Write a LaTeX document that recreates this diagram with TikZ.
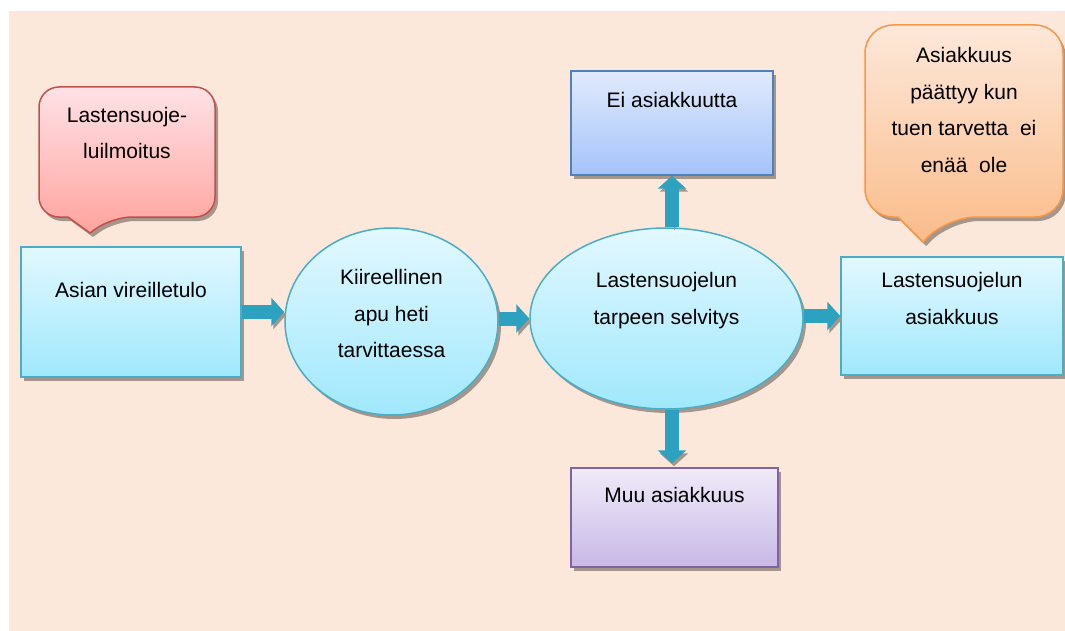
\documentclass[tikz,border=0pt]{standalone}
\usepackage{fontspec}
\setmainfont{Liberation Sans}
\usetikzlibrary{arrows.meta,positioning,shapes.geometric,shadows}

\definecolor{paper}{RGB}{251,232,218}
\definecolor{cyanline}{RGB}{75,172,198}
\definecolor{cyantop}{RGB}{226,248,255}
\definecolor{cyanbot}{RGB}{160,232,252}
\definecolor{blueline}{RGB}{79,129,189}
\definecolor{bluetop}{RGB}{224,234,252}
\definecolor{bluebot}{RGB}{165,195,250}
\definecolor{violetline}{RGB}{128,100,162}
\definecolor{violettop}{RGB}{240,234,249}
\definecolor{violetbot}{RGB}{200,185,230}
\definecolor{redline}{RGB}{192,80,77}
\definecolor{redtop}{RGB}{255,226,230}
\definecolor{redbot}{RGB}{255,163,158}
\definecolor{orangeline}{RGB}{247,150,70}
\definecolor{orangetop}{RGB}{253,232,218}
\definecolor{orangebot}{RGB}{250,188,138}
\definecolor{arrowcol}{RGB}{45,162,192}
\definecolor{shadowcol}{RGB}{165,150,140}

\begin{document}
\begin{tikzpicture}[x=1pt,y=-1pt]

\tikzset{
  labeltext/.style={font=\fontsize{21pt}{36.5pt}\selectfont, align=center, text=black, inner sep=0pt},
  boxshadow/.style={drop shadow={shadow xshift=3pt, shadow yshift=-4pt, fill=shadowcol, opacity=1}},
  cyanbox/.style={rectangle, draw=cyanline, line width=1.5pt, top color=cyantop, bottom color=cyanbot, boxshadow},
  cyanoval/.style={ellipse, draw=cyanline, line width=1.5pt, top color=cyantop, bottom color=cyanbot, boxshadow, inner sep=0pt},
  bluebox/.style={rectangle, draw=blueline, line width=1.5pt, top color=bluetop, bottom color=bluebot, boxshadow},
  violetbox/.style={rectangle, draw=violetline, line width=1.5pt, top color=violettop, bottom color=violetbot, boxshadow},
  redcall/.style={draw=redline, line width=1.5pt, top color=redtop, bottom color=redbot, boxshadow},
  orangecall/.style={draw=orangeline, line width=1.5pt, top color=orangetop, bottom color=orangebot, boxshadow},
  flow/.style={line width=14pt, draw=arrowcol, -{Triangle[width=28pt,length=13pt]},
    preaction={draw=shadowcol, transform canvas={xshift=2pt,yshift=-3pt}}}
}

\useasboundingbox (0,0) rectangle (1065,631);
\fill[paper] (9,11) rectangle (1065,631);

% callouts
\path[redcall] (39,150) [rounded corners=20pt] -- (39,87) -- (215,87) -- (215,217) -- (112,217)
  [sharp corners] -- (90,233) -- (68,217) [rounded corners=20pt] -- (39,217) -- cycle;
\node[labeltext] (noticetext) at (127,133) {Lastensuoje-\\luilmoitus};

\path[orangecall] (865,120) [rounded corners=28pt] -- (865,25) -- (1063,25) -- (1063,217) -- (948,217)
  [sharp corners] -- (923,242) -- (898,217) [rounded corners=28pt] -- (865,217) -- cycle;
\node[labeltext] (endtext) at (964,110) {Asiakkuus\\päättyy kun\\tuen tarvetta~ ei\\enää~ ole};

% main flow
\node[cyanbox, minimum width=220pt, minimum height=130pt,
  label={[labeltext,yshift=22pt]center:Asian vireilletulo}] (start) at (131,312) {};
\node[cyanoval, minimum width=213pt, minimum height=187pt,
  label={[labeltext,yshift=8pt]center:Kiireellinen\\apu heti\\tarvittaessa}] (urgent) at (391.5,321.5) {};
\node[cyanoval, minimum width=273pt, minimum height=181pt,
  label={[labeltext,yshift=18pt]center:Lastensuojelun\\tarpeen selvitys}] (study) at (666.5,318.5) {};
\node[cyanbox, minimum width=222pt, minimum height=118pt,
  label={[labeltext,yshift=17.5pt]center:Lastensuojelun\\asiakkuus}] (client) at (952,316) {};

% outcomes
\node[bluebox, minimum width=202pt, minimum height=104pt,
  label={[labeltext,yshift=23pt]center:Ei asiakkuutta}] (noclient) at (672,123) {};
\node[violetbox, minimum width=207pt, minimum height=99pt,
  label={[labeltext,yshift=22.5pt]center:Muu asiakkuus}] (other) at (674.5,517.5) {};

\draw[flow] (start.east) -- (start.east -| urgent.west);
\draw[flow] (study.west -| urgent.east) -- (study.west);
\draw[flow] (client.west -| study.east) -- (client.west);
\draw[flow] (noclient.south |- study.north) -- (noclient.south);
\draw[flow, shorten >=4pt] (noclient.south |- study.south) -- (noclient.south |- other.north);

\end{tikzpicture}
\end{document}
